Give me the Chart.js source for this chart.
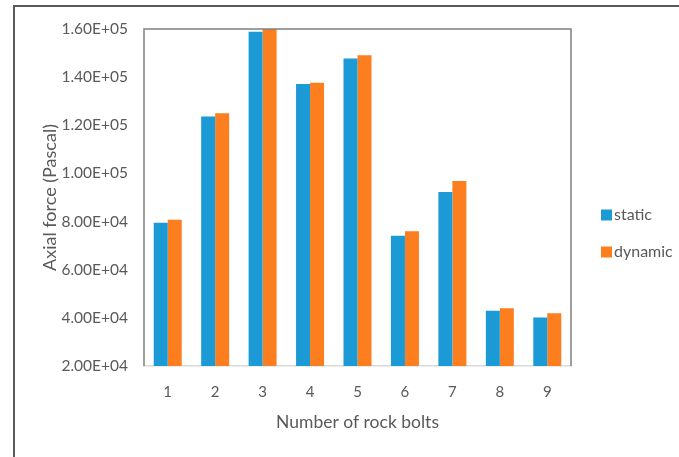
<!DOCTYPE html>
<html>
<head>
<meta charset="utf-8">
<style>
  html, body { margin: 0; padding: 0; background: #ffffff; }
  #wrap { position: relative; width: 679px; height: 457px; }
</style>
<script src="https://cdn.jsdelivr.net/npm/chart.js@4.4.1/dist/chart.umd.min.js"></script>
</head>
<body>
<div id="wrap"><canvas id="chart" width="679" height="457"></canvas></div>
<script>
// Axial force per rock bolt, static vs dynamic loading
const boltNumbers = ['1', '2', '3', '4', '5', '6', '7', '8', '9'];
const staticForce  = [79500, 123700, 158900, 137200, 147700, 74100, 92300, 43000, 40100];
const dynamicForce = [80800, 125000, 160000, 137700, 149100, 76000, 96900, 44000, 41900];
const yTickLabels = ['2.00E+04', '4.00E+04', '6.00E+04', '8.00E+04', '1.00E+05', '1.20E+05', '1.40E+05', '1.60E+05'];

const FONT = 'Lato, "Open Sans", sans-serif';
const TEXT = '#595959';
const BLUE = '#1B9AD6';
const ORANGE = '#FD7E1F';

// Outer frame, plot border and the legend on the right
const decorations = {
  id: 'decorations',
  afterDraw(chart) {
    const { ctx, chartArea: a } = chart;
    ctx.save();
    // outer frame (top and left edges)
    ctx.strokeStyle = '#5a5a5a';
    ctx.lineWidth = 2;
    ctx.beginPath();
    ctx.moveTo(679, 6);
    ctx.lineTo(14, 6);
    ctx.lineTo(14, 457);
    ctx.stroke();
    // plot area border (top, left, right)
    ctx.strokeStyle = '#808080';
    ctx.lineWidth = 1.5;
    ctx.beginPath();
    ctx.moveTo(a.left, a.bottom);
    ctx.lineTo(a.left, a.top);
    ctx.lineTo(a.right, a.top);
    ctx.lineTo(a.right, a.bottom);
    ctx.stroke();
    // legend
    ctx.font = '16px ' + FONT;
    ctx.textBaseline = 'middle';
    ctx.textAlign = 'left';
    const items = chart.data.datasets;
    const ys = [215, 252];
    items.forEach((ds, i) => {
      ctx.fillStyle = ds.backgroundColor;
      ctx.fillRect(601, ys[i] - 5.5, 11, 11);
      ctx.fillStyle = TEXT;
      ctx.fillText(ds.label, 614, ys[i]);
    });
    ctx.restore();
  }
};

new Chart(document.getElementById('chart'), {
  type: 'bar',
  data: {
    labels: boltNumbers,
    datasets: [
      { label: 'static', data: staticForce, backgroundColor: BLUE },
      { label: 'dynamic', data: dynamicForce, backgroundColor: ORANGE }
    ]
  },
  options: {
    responsive: false,
    animation: false,
    devicePixelRatio: 1,
    layout: { padding: { left: 0, right: 108, top: 29, bottom: 0 } },
    plugins: { legend: { display: false }, tooltip: { enabled: false } },
    datasets: { bar: { categoryPercentage: 0.59, barPercentage: 1.0 } },
    scales: {
      x: {
        grid: { display: false, drawTicks: false },
        border: { display: true, color: '#d9d9d9', width: 1.5 },
        ticks: { color: TEXT, font: { family: FONT, size: 15 }, padding: 17 },
        title: {
          display: true,
          text: 'Number of rock bolts',
          color: TEXT,
          font: { family: FONT, size: 17.5 },
          padding: { top: 0, bottom: 24 }
        },
        afterFit(scale) { scale.height = 91; }
      },
      y: {
        min: 20000,
        max: 160000,
        grid: { display: false, drawTicks: false },
        border: { display: false },
        ticks: {
          stepSize: 20000,
          color: TEXT,
          font: { family: FONT, size: 15.5 },
          padding: 16,
          callback: (v) => yTickLabels[Math.round((v - 20000) / 20000)]
        },
        title: {
          display: true,
          text: 'Axial force (Pascal)',
          color: TEXT,
          font: { family: FONT, size: 18 },
          padding: { top: 39, bottom: 0 }
        },
        afterFit(scale) { scale.width = 144; }
      }
    }
  },
  plugins: [decorations]
});
</script>
</body>
</html>
